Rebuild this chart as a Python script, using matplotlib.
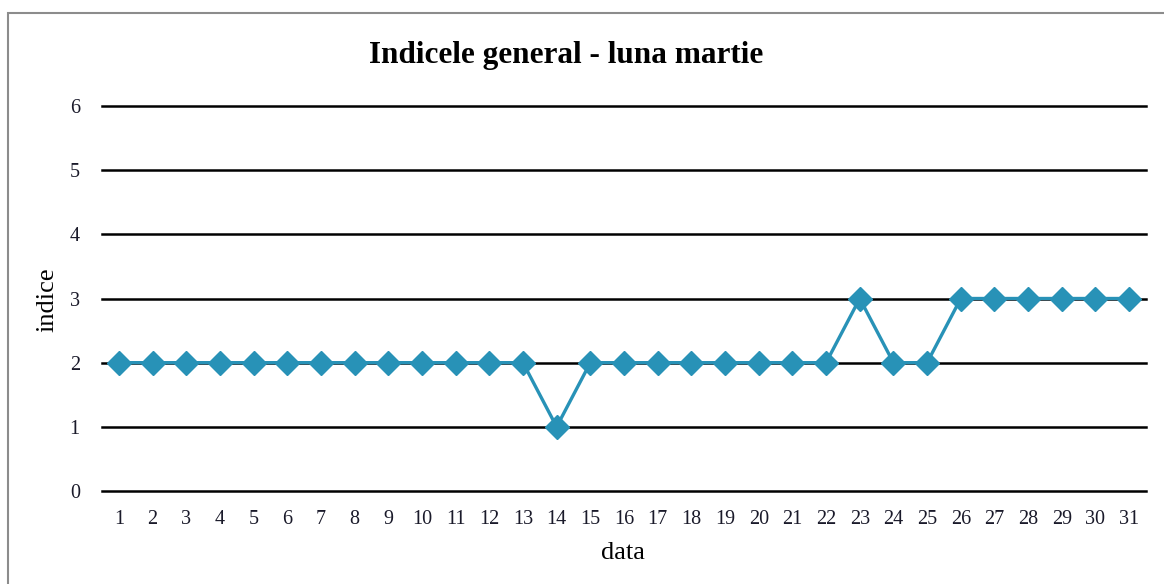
import matplotlib.pyplot as plt
from matplotlib.patches import Rectangle

days = list(range(1, 32))
indice = [2, 2, 2, 2, 2, 2, 2, 2, 2, 2, 2, 2, 2, 1, 2, 2, 2, 2, 2, 2, 2, 2, 3, 2, 2, 3, 3, 3, 3, 3, 3]
yticks = [0, 1, 2, 3, 4, 5, 6]

plt.rcParams['font.family'] = ['Liberation Serif', 'DejaVu Serif']

fig = plt.figure(figsize=(11.64, 5.84), dpi=100)
# outer chart frame
fig.patches.append(Rectangle((8 / 1164, -0.1), 1.2, 1 - 13 / 584 + 0.1, transform=fig.transFigure,
                             fill=False, edgecolor='#8c8c8c', linewidth=1.5))

ax = fig.add_axes([102 / 1164, 1 - 491 / 584, (1146 - 102) / 1164, (491 - 106) / 584])
for y in yticks:
    ax.axhline(y, color='black', linewidth=1.8, zorder=1, clip_on=False)
ax.plot(days, indice, color='#2892b7', linewidth=2.4, marker='D', markersize=12.5, zorder=3,
        clip_on=False)

ax.set_xlim(0.5, 31.5)
ax.set_ylim(0, 6)
ax.set_xticks(days)
ax.set_yticks(yticks)
ax.tick_params(length=0, labelsize=14.5, colors='#1a1a2a')
ax.tick_params(axis='x', pad=14)
ax.tick_params(axis='y', pad=16)
for s in ax.spines.values():
    s.set_visible(False)

fig.text(623 / 1164, 1 - 553 / 584, 'data', ha='center', va='center', fontsize=19)
fig.text(47 / 1164, 1 - 300 / 584, 'indice', ha='center', va='center', rotation=90, fontsize=19)
fig.text(566 / 1164, 1 - 55 / 584, 'Indicele general - luna martie', ha='center', va='center',
         fontsize=22.5, fontweight='bold')

fig.savefig('out.png', dpi=100)
